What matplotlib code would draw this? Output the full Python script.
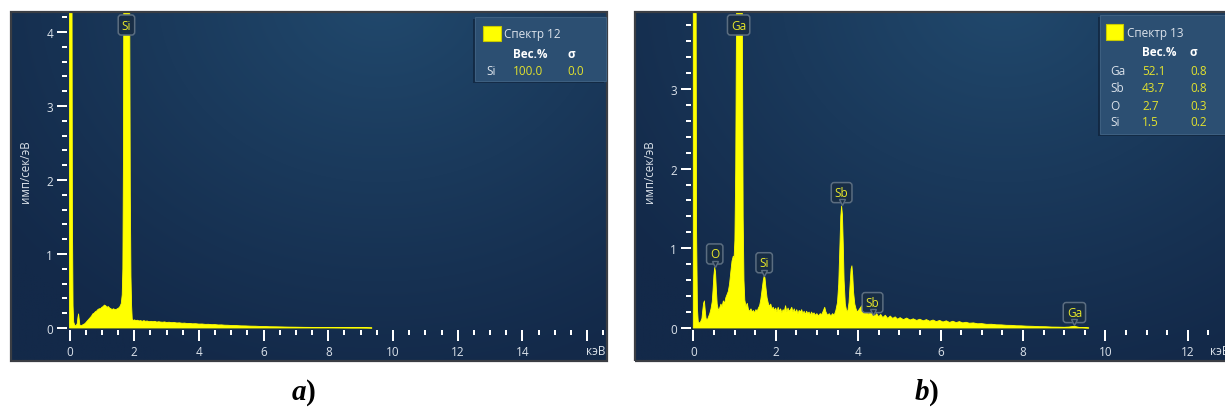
import numpy as np
import matplotlib
matplotlib.use("Agg")
import matplotlib.pyplot as plt
from matplotlib.patches import Rectangle
from matplotlib.transforms import offset_copy, blended_transform_factory

plt.rcParams['font.family'] = ['Open Sans', 'DejaVu Sans']

# ---------------------------------------------------------------- data
# EDS spectra: (energy, keV ; intensity, cps/eV)
spectrum_12 = [
    (0.00, 9.0), (0.06, 9.0), (0.09, 1.5), (0.11, 0.30), (0.13, 0.08), (0.16, 0.04),
    (0.20, 0.03), (0.24, 0.06), (0.26, 0.14), (0.28, 0.19), (0.30, 0.12), (0.32, 0.04),
    (0.36, 0.03), (0.40, 0.04), (0.44, 0.05), (0.48, 0.06), (0.52, 0.08), (0.56, 0.10),
    (0.60, 0.12), (0.64, 0.14), (0.68, 0.16), (0.72, 0.19), (0.76, 0.20), (0.80, 0.22),
    (0.84, 0.23), (0.88, 0.25), (0.92, 0.26), (0.96, 0.26), (1.00, 0.28), (1.04, 0.29),
    (1.08, 0.31), (1.12, 0.30), (1.16, 0.28), (1.20, 0.29), (1.24, 0.27), (1.28, 0.26),
    (1.32, 0.25), (1.36, 0.26), (1.40, 0.25), (1.44, 0.25), (1.48, 0.26), (1.52, 0.27),
    (1.56, 0.29), (1.60, 0.33), (1.63, 0.45), (1.65, 0.80), (1.67, 2.50), (1.68, 5.0),
    (1.70, 9.0), (1.84, 9.0), (1.86, 4.5), (1.88, 1.80), (1.90, 0.70), (1.92, 0.30),
    (1.94, 0.12), (1.97, 0.10), (2.01, 0.11), (2.05, 0.10), (2.10, 0.105), (2.15, 0.095),
    (2.20, 0.10), (2.25, 0.09), (2.30, 0.10), (2.35, 0.09), (2.40, 0.095), (2.46, 0.085),
    (2.52, 0.09), (2.58, 0.085), (2.64, 0.09), (2.70, 0.08), (2.76, 0.085), (2.82, 0.08),
    (2.88, 0.078), (2.94, 0.082), (3.00, 0.075), (3.08, 0.078), (3.16, 0.072), (3.24, 0.074),
    (3.32, 0.068), (3.40, 0.070), (3.48, 0.064), (3.56, 0.066), (3.64, 0.060), (3.72, 0.062),
    (3.80, 0.057), (3.90, 0.058), (4.00, 0.053), (4.10, 0.054), (4.20, 0.049), (4.30, 0.050),
    (4.40, 0.045), (4.50, 0.046), (4.60, 0.041), (4.70, 0.042), (4.80, 0.038), (4.90, 0.037),
    (5.00, 0.034), (5.15, 0.033), (5.30, 0.029), (5.45, 0.028), (5.60, 0.025), (5.75, 0.024),
    (5.90, 0.021), (6.05, 0.020), (6.20, 0.017), (6.40, 0.016), (6.60, 0.014), (6.80, 0.012),
    (7.00, 0.011), (7.25, 0.009), (7.50, 0.008), (7.75, 0.007), (8.00, 0.006), (8.25, 0.005),
    (8.50, 0.004), (8.75, 0.003), (9.00, 0.003), (9.20, 0.002), (9.35, 0.0),
]

spectrum_13 = [
    (0.00, 9.0), (0.05, 9.0), (0.08, 1.2), (0.10, 0.25), (0.12, 0.08), (0.15, 0.06),
    (0.18, 0.08), (0.21, 0.12), (0.23, 0.22), (0.25, 0.31), (0.27, 0.34), (0.29, 0.22),
    (0.31, 0.12), (0.34, 0.10), (0.37, 0.14), (0.40, 0.18), (0.43, 0.24), (0.46, 0.33),
    (0.48, 0.48), (0.50, 0.66), (0.52, 0.76), (0.54, 0.70), (0.56, 0.48), (0.58, 0.30),
    (0.61, 0.22), (0.64, 0.25), (0.67, 0.30), (0.70, 0.27), (0.73, 0.34), (0.76, 0.31),
    (0.79, 0.38), (0.82, 0.42), (0.85, 0.46), (0.88, 0.55), (0.91, 0.70), (0.94, 0.84),
    (0.97, 0.90), (0.99, 0.88), (1.01, 1.10), (1.03, 2.0), (1.05, 4.0), (1.07, 9.0),
    (1.17, 9.0), (1.19, 4.0), (1.21, 1.4), (1.23, 0.60), (1.25, 0.35), (1.28, 0.27),
    (1.31, 0.31), (1.34, 0.23), (1.37, 0.21), (1.40, 0.24), (1.43, 0.20), (1.46, 0.22),
    (1.49, 0.19), (1.52, 0.23), (1.55, 0.21), (1.58, 0.25), (1.61, 0.28), (1.64, 0.36),
    (1.67, 0.48), (1.70, 0.60), (1.72, 0.65), (1.74, 0.63), (1.76, 0.52), (1.79, 0.38),
    (1.82, 0.31), (1.85, 0.27), (1.88, 0.30), (1.91, 0.24), (1.94, 0.26), (1.97, 0.22),
    (2.00, 0.25), (2.03, 0.20), (2.06, 0.26), (2.09, 0.21), (2.12, 0.24), (2.15, 0.19),
    (2.18, 0.23), (2.21, 0.21), (2.24, 0.28), (2.27, 0.20), (2.30, 0.25), (2.33, 0.21),
    (2.36, 0.23), (2.39, 0.26), (2.42, 0.20), (2.45, 0.24), (2.48, 0.19), (2.51, 0.23),
    (2.54, 0.18), (2.57, 0.22), (2.60, 0.20), (2.63, 0.23), (2.66, 0.18), (2.69, 0.21),
    (2.72, 0.17), (2.75, 0.21), (2.78, 0.18), (2.81, 0.20), (2.84, 0.16), (2.87, 0.20),
    (2.90, 0.17), (2.93, 0.19), (2.96, 0.16), (3.00, 0.18), (3.04, 0.15), (3.08, 0.18),
    (3.12, 0.17), (3.16, 0.22), (3.19, 0.26), (3.22, 0.20), (3.26, 0.16), (3.30, 0.18),
    (3.34, 0.15), (3.38, 0.18), (3.42, 0.16), (3.46, 0.22), (3.50, 0.32), (3.53, 0.55),
    (3.56, 1.05), (3.58, 1.40), (3.60, 1.53), (3.62, 1.42), (3.64, 1.05), (3.66, 0.60),
    (3.69, 0.30), (3.72, 0.22), (3.75, 0.21), (3.78, 0.32), (3.81, 0.58), (3.83, 0.74),
    (3.85, 0.78), (3.87, 0.66), (3.89, 0.45), (3.92, 0.30), (3.95, 0.24), (3.98, 0.20),
    (4.01, 0.22), (4.05, 0.25), (4.09, 0.28), (4.13, 0.23), (4.17, 0.19), (4.21, 0.21),
    (4.25, 0.17), (4.29, 0.20), (4.33, 0.22), (4.37, 0.18), (4.41, 0.15), (4.45, 0.18),
    (4.50, 0.14), (4.55, 0.17), (4.60, 0.13), (4.66, 0.16), (4.72, 0.12), (4.78, 0.15),
    (4.84, 0.12), (4.90, 0.14), (4.96, 0.11), (5.02, 0.13), (5.10, 0.105), (5.18, 0.125),
    (5.26, 0.10), (5.34, 0.115), (5.42, 0.095), (5.50, 0.11), (5.58, 0.09), (5.66, 0.105),
    (5.74, 0.085), (5.82, 0.10), (5.90, 0.08), (5.98, 0.095), (6.06, 0.075), (6.14, 0.09),
    (6.22, 0.07), (6.30, 0.085), (6.38, 0.068), (6.46, 0.08), (6.54, 0.064), (6.62, 0.072),
    (6.70, 0.06), (6.80, 0.064), (6.90, 0.053), (7.00, 0.055), (7.12, 0.046), (7.24, 0.047),
    (7.36, 0.040), (7.48, 0.039), (7.60, 0.034), (7.72, 0.033), (7.84, 0.028), (7.96, 0.027),
    (8.10, 0.023), (8.25, 0.021), (8.40, 0.017), (8.55, 0.016), (8.70, 0.012), (8.85, 0.011),
    (9.00, 0.009), (9.12, 0.012), (9.22, 0.020), (9.28, 0.018), (9.36, 0.008), (9.48, 0.004),
    (9.60, 0.0),
]

# peak markers: (element, energy keV, intensity at marker tip; None = off-scale peak)
peaks_12 = [("Si", 1.76, None)]
peaks_13 = [("Ga", 1.10, None), ("O", 0.52, 0.76), ("Si", 1.72, 0.65),
            ("Sb", 3.60, 1.53), ("Sb", 4.35, 0.15), ("Ga", 9.25, 0.025)]

# quantification tables
names_12 = ["Спектр 12"]
elements_12 = ["Si"]
wt_12 = ["100.0"]
sigma_12 = ["0.0"]

names_13 = ["Спектр 13"]
elements_13 = ["Ga", "Sb", "O", "Si"]
wt_13 = ["52.1", "43.7", "2.7", "1.5"]
sigma_13 = ["0.8", "0.8", "0.3", "0.2"]

panel_labels = ["a", "b"]
x_unit = "кэВ"
y_unit = "имп/сек/эВ"

# ---------------------------------------------------------------- style
W, H, DPI = 1225, 410, 100
PT = 72.0 / DPI            # points per pixel
YELLOW = "#ffff00"
TXT = "#dbe2ea"
VAL = "#e2e22e"
BASE = np.array([0x13, 0x29, 0x49]) / 255
HI = np.array([0x21, 0x49, 0x6d]) / 255
FS = 8.5

fig = plt.figure(figsize=(W / DPI, H / DPI), dpi=DPI, facecolor="white")


def fig_xy(x, y):
    return x / W, 1 - y / H


def draw_panel(left, right, top, bottom, x0, kx, y0, ky, spectrum, xmax_tick,
               ymax_major, ymax_minor, peaks, cx):
    ax = fig.add_axes([left / W, 1 - bottom / H, (right - left) / W, (bottom - top) / H])
    hgt = bottom - top

    # background gradient
    ny, nx = 150, 250
    v, u = np.mgrid[0:1:ny * 1j, 0:1:nx * 1j]
    d = np.sqrt(((u - cx) / 0.8) ** 2 + ((v - 1.05) / 1.15) ** 2)
    t = np.clip(1 - d, 0, 1) ** 1.1
    img = BASE[None, None, :] * (1 - t[..., None]) + HI[None, None, :] * t[..., None]
    ax.imshow(img, extent=(0, 1, 0, 1), transform=ax.transAxes, origin="lower",
              aspect="auto", zorder=0, interpolation="bilinear")

    ax.set_xlim((left - x0) / kx, (right - x0) / kx)
    ax.set_ylim((y0 - bottom) / ky, (y0 - top) / ky)

    e, c = zip(*spectrum)
    ax.fill_between(e, c, 0, color=YELLOW, lw=0.6, zorder=3)

    # axes: ticks only, offset slightly from the data origin
    for s in ax.spines.values():
        s.set_color("none")
    ax.spines["left"].set_position(("data", -2.5 / kx))
    ax.spines["bottom"].set_position(("data", -2.0 / ky))

    ax.set_xticks(np.arange(0, xmax_tick + 0.01, 2))
    ax.set_xticks(np.arange(0, xmax_tick + 0.6, 0.5), minor=True)
    ax.set_yticks(np.arange(0, ymax_major + 0.01, 1))
    ax.set_yticks(np.arange(0, ymax_minor + 0.01, 0.2), minor=True)
    ax.tick_params(axis="x", which="major", length=11 * PT, width=2 * PT, color="white",
                   pad=4 * PT, labelsize=FS, labelcolor=TXT)
    ax.tick_params(axis="x", which="minor", length=5 * PT, width=2 * PT, color="white")
    ax.tick_params(axis="y", which="major", length=10 * PT, width=2 * PT, color="white",
                   pad=4 * PT, labelsize=FS, labelcolor=TXT)
    ax.tick_params(axis="y", which="minor", length=5 * PT, width=2 * PT, color="white")

    # frame
    ax.add_patch(Rectangle((0, 0), 1, 1, transform=ax.transAxes, fill=False,
                           ec="#3b3e44", lw=1.6, clip_on=False, zorder=10))

    ax.text(14 / (right - left), (bottom - 172) / hgt, y_unit, transform=ax.transAxes,
            rotation=90, ha="center", va="center", fontsize=8.3, color=TXT)
    ax.text((right - 2 - left) / (right - left), (bottom - 352) / hgt, x_unit,
            transform=ax.transAxes, ha="right", va="center", fontsize=FS, color=TXT)

    # peak labels
    box = dict(boxstyle="round,pad=0.3,rounding_size=0.25", fc="#182d45",
               ec="#5b6d80", lw=1.1)
    for name, en, val in peaks:
        if val is None:
            tr = blended_transform_factory(ax.transData, ax.transAxes)
            tr = offset_copy(tr, fig=fig, x=0, y=-13 * PT, units="points")
            ax.text(en, 1.0, name, transform=tr, ha="center", va="center", fontsize=FS,
                    color="#e8e82a", bbox=box, clip_on=True, zorder=6)
        else:
            tr = offset_copy(ax.transData, fig=fig, x=0, y=5.0, units="points")
            ax.text(en, val, name, transform=tr, ha="center", va="bottom", fontsize=FS,
                    color="#e8e82a", bbox=box, clip_on=True, zorder=6)
            trm = offset_copy(ax.transData, fig=fig, x=0, y=2.6, units="points")
            ax.plot([en], [val], marker="v", ms=5, mfc="#182d45", mec="#5b6d80", mew=1.0,
                    transform=trm, zorder=7, clip_on=True)
    return ax


ax1 = draw_panel(11, 607, 13, 362, 69.5, 32.35, 329, 74.0, spectrum_12, 16, 4, 4.2,
                 peaks_12, 0.62)
ax1.set_xticklabels([str(int(v)) for v in np.arange(0, 15, 2)] + [""])

ax2 = draw_panel(635, 1231, 13, 362, 693.3, 41.2, 329, 79.7, spectrum_13, 12, 3, 3.8,
                 peaks_13, 0.62)
ax2.set_xticklabels([str(int(v)) for v in np.arange(0, 13, 2)])


def legend(x0, y0, x1, y1, sq, title, elems, wts, sigs, title_x, head_y, col_x, rows_y):
    # shadow + box
    fig.patches.append(Rectangle(fig_xy(x0 - 2, y1 + 2), (x1 - x0) / W, (y1 - y0) / H,
                                 transform=fig.transFigure, fc="#0b1a2e", ec="none",
                                 alpha=0.55, zorder=20))
    fig.patches.append(Rectangle(fig_xy(x0, y1), (x1 - x0) / W, (y1 - y0) / H,
                                 transform=fig.transFigure, fc="#2c4f72", ec="#3d5f80",
                                 lw=0.8, zorder=21))
    sx0, sy0, sx1, sy1 = sq
    fig.patches.append(Rectangle(fig_xy(sx0, sy1), (sx1 - sx0) / W, (sy1 - sy0) / H,
                                 transform=fig.transFigure, fc=YELLOW, ec="#c9c900",
                                 lw=0.8, zorder=22))
    fig.text(*fig_xy(title_x, (sy0 + sy1) / 2), title, ha="left", va="center",
             fontsize=FS, color=TXT, zorder=23)
    fig.text(*fig_xy(col_x[1], head_y), "Вес.%", ha="left", va="center", fontsize=FS,
             fontweight="bold", color="white", zorder=23)
    fig.text(*fig_xy(col_x[2], head_y), "σ", ha="left", va="center", fontsize=FS,
             fontweight="bold", color="white", zorder=23)
    for el, w, s, ry in zip(elems, wts, sigs, rows_y):
        fig.text(*fig_xy(col_x[0], ry), el, ha="left", va="center", fontsize=FS,
                 color=TXT, zorder=23)
        fig.text(*fig_xy(col_x[1], ry), w, ha="left", va="center", fontsize=FS,
                 color=VAL, zorder=23)
        fig.text(*fig_xy(col_x[2], ry), s, ha="left", va="center", fontsize=FS,
                 color=VAL, zorder=23)


legend(475, 18, 606, 82, (483, 27, 501, 42), names_12[0], elements_12, wt_12, sigma_12,
       504, 55, (486, 513, 567), [72])
legend(1100, 16, 1240, 135, (1106, 25, 1123, 41), names_13[0], elements_13, wt_13,
       sigma_13, 1127, 53, (1110, 1142, 1190), [72, 89, 106, 123])

# panel captions
for lab, cx in zip(panel_labels, (306, 929)):
    fig.text(*fig_xy(cx, 400), lab, ha="right", va="baseline", fontsize=21,
             family="Liberation Serif", style="italic", weight="bold", color="black")
    fig.text(*fig_xy(cx, 400), ")", ha="left", va="baseline", fontsize=21,
             family="Liberation Serif", weight="bold", color="black")

fig.savefig("out.png", dpi=DPI, facecolor="white")
